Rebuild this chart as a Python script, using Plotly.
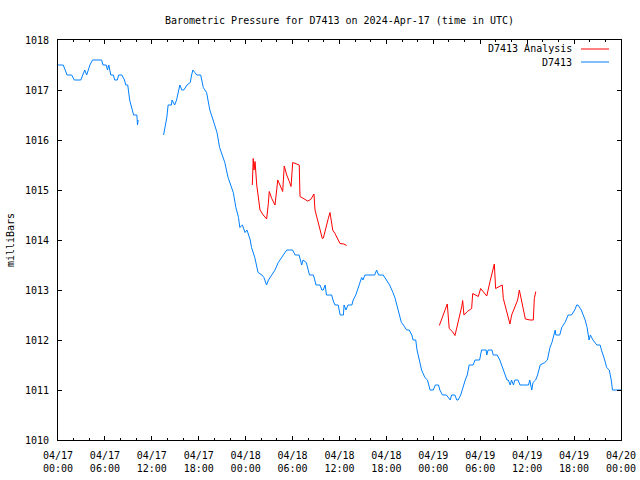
import plotly.graph_objects as go

# ---------------- data ----------------
station = "D7413"
title_text = "Barometric Pressure for D7413 on 2024-Apr-17 (time in UTC)"
y_title = "milliBars"

blue_times = [
    "2024-04-17 00:00", "2024-04-17 00:40", "2024-04-17 00:55", "2024-04-17 01:10", "2024-04-17 01:45",
    "2024-04-17 02:05", "2024-04-17 02:55", "2024-04-17 03:10", "2024-04-17 03:25", "2024-04-17 03:40",
    "2024-04-17 03:50", "2024-04-17 04:05", "2024-04-17 04:25", "2024-04-17 05:35", "2024-04-17 05:45",
    "2024-04-17 06:10", "2024-04-17 06:20", "2024-04-17 06:30", "2024-04-17 06:45", "2024-04-17 07:05",
    "2024-04-17 07:15", "2024-04-17 07:35", "2024-04-17 07:45", "2024-04-17 08:10", "2024-04-17 08:30",
    "2024-04-17 08:40", "2024-04-17 08:55", "2024-04-17 09:10", "2024-04-17 09:30", "2024-04-17 09:40",
    "2024-04-17 10:05", "2024-04-17 10:10", "2024-04-17 10:15",
    "2024-04-17 12:00",
    "2024-04-17 13:30", "2024-04-17 13:55", "2024-04-17 14:05", "2024-04-17 14:30", "2024-04-17 14:35",
    "2024-04-17 14:45", "2024-04-17 14:55", "2024-04-17 15:10", "2024-04-17 15:25", "2024-04-17 15:35",
    "2024-04-17 15:50", "2024-04-17 16:05", "2024-04-17 16:30", "2024-04-17 16:55", "2024-04-17 17:05",
    "2024-04-17 17:15", "2024-04-17 17:30", "2024-04-17 17:45", "2024-04-17 18:15", "2024-04-17 18:35",
    "2024-04-17 19:00", "2024-04-17 19:15", "2024-04-17 19:25", "2024-04-17 19:50", "2024-04-17 20:20",
    "2024-04-17 20:40", "2024-04-17 20:55", "2024-04-17 21:20", "2024-04-17 21:45", "2024-04-17 22:05",
    "2024-04-17 22:25", "2024-04-17 22:45", "2024-04-17 23:05", "2024-04-17 23:15", "2024-04-17 23:35",
    "2024-04-17 23:55", "2024-04-18 00:10", "2024-04-18 00:35", "2024-04-18 00:45", "2024-04-18 01:10",
    "2024-04-18 01:35", "2024-04-18 02:05", "2024-04-18 02:20", "2024-04-18 02:40", "2024-04-18 02:55",
    "2024-04-18 03:20", "2024-04-18 03:45", "2024-04-18 04:10", "2024-04-18 04:50", "2024-04-18 05:15",
    "2024-04-18 06:00", "2024-04-18 06:20", "2024-04-18 06:50", "2024-04-18 07:10", "2024-04-18 07:20",
    "2024-04-18 07:45", "2024-04-18 08:00", "2024-04-18 08:10", "2024-04-18 08:40", "2024-04-18 09:00",
    "2024-04-18 09:30", "2024-04-18 09:45", "2024-04-18 09:55", "2024-04-18 10:10", "2024-04-18 10:20",
    "2024-04-18 11:00", "2024-04-18 11:10", "2024-04-18 11:25", "2024-04-18 11:50", "2024-04-18 12:05",
    "2024-04-18 12:30", "2024-04-18 12:35", "2024-04-18 12:50", "2024-04-18 13:05", "2024-04-18 13:35",
    "2024-04-18 13:45", "2024-04-18 14:05", "2024-04-18 14:25", "2024-04-18 14:35", "2024-04-18 14:50",
    "2024-04-18 15:00", "2024-04-18 15:15", "2024-04-18 16:30", "2024-04-18 16:45", "2024-04-18 17:00",
    "2024-04-18 17:35", "2024-04-18 18:00", "2024-04-18 18:25", "2024-04-18 18:50", "2024-04-18 19:05",
    "2024-04-18 19:20", "2024-04-18 19:40", "2024-04-18 19:55", "2024-04-18 20:10", "2024-04-18 20:35",
    "2024-04-18 20:55", "2024-04-18 21:15", "2024-04-18 21:25", "2024-04-18 21:45", "2024-04-18 21:55",
    "2024-04-18 22:10", "2024-04-18 22:30", "2024-04-18 22:55", "2024-04-18 23:15", "2024-04-18 23:35",
    "2024-04-19 00:00", "2024-04-19 00:15", "2024-04-19 00:40", "2024-04-19 00:50", "2024-04-19 01:10",
    "2024-04-19 01:40", "2024-04-19 01:55", "2024-04-19 02:10", "2024-04-19 02:20", "2024-04-19 02:45",
    "2024-04-19 03:00", "2024-04-19 03:10", "2024-04-19 03:30", "2024-04-19 03:50", "2024-04-19 04:05",
    "2024-04-19 04:20", "2024-04-19 04:35", "2024-04-19 05:05", "2024-04-19 05:20", "2024-04-19 05:55",
    "2024-04-19 06:10", "2024-04-19 06:45", "2024-04-19 06:50", "2024-04-19 07:00", "2024-04-19 07:30",
    "2024-04-19 07:40", "2024-04-19 08:10", "2024-04-19 08:30", "2024-04-19 08:55", "2024-04-19 09:25",
    "2024-04-19 09:35", "2024-04-19 09:50", "2024-04-19 10:00", "2024-04-19 10:15", "2024-04-19 10:25",
    "2024-04-19 10:50", "2024-04-19 11:05", "2024-04-19 12:10", "2024-04-19 12:20", "2024-04-19 12:35",
    "2024-04-19 12:45", "2024-04-19 13:05", "2024-04-19 13:20", "2024-04-19 13:40", "2024-04-19 14:15",
    "2024-04-19 14:35", "2024-04-19 14:55", "2024-04-19 15:10", "2024-04-19 15:35", "2024-04-19 15:40",
    "2024-04-19 16:10", "2024-04-19 16:25", "2024-04-19 16:50", "2024-04-19 17:15", "2024-04-19 17:40",
    "2024-04-19 18:05", "2024-04-19 18:20", "2024-04-19 18:30", "2024-04-19 18:55", "2024-04-19 19:25",
    "2024-04-19 19:40", "2024-04-19 19:55", "2024-04-19 20:05", "2024-04-19 20:25", "2024-04-19 20:55",
    "2024-04-19 21:20", "2024-04-19 21:30", "2024-04-19 21:45", "2024-04-19 21:55", "2024-04-19 22:10",
    "2024-04-19 22:30", "2024-04-19 22:45", "2024-04-19 22:55", "2024-04-20 00:00",
]
blue_values = [
    1017.5, 1017.5, 1017.4, 1017.3, 1017.3,
    1017.2, 1017.2, 1017.3, 1017.4, 1017.3,
    1017.4, 1017.5, 1017.6, 1017.6, 1017.5,
    1017.5, 1017.4, 1017.5, 1017.3, 1017.3,
    1017.2, 1017.2, 1017.3, 1017.3, 1017.2,
    1017.1, 1017.1, 1016.8, 1016.6, 1016.5,
    1016.5, 1016.3, 1016.4,
    None,
    1016.1, 1016.45, 1016.7, 1016.7, 1016.8,
    1016.75, 1016.7, 1016.8, 1017.0, 1017.1,
    1017.0, 1017.0, 1017.1, 1017.15, 1017.3,
    1017.4, 1017.35, 1017.3, 1017.3, 1017.05,
    1016.95, 1016.75, 1016.6, 1016.4, 1016.15,
    1015.85, 1015.75, 1015.55, 1015.25, 1015.1,
    1014.95, 1014.65, 1014.45, 1014.25, 1014.3,
    1014.15, 1014.2, 1014.0, 1013.85, 1013.65,
    1013.35, 1013.3, 1013.25, 1013.1, 1013.2,
    1013.3, 1013.4, 1013.55, 1013.7, 1013.8,
    1013.8, 1013.7, 1013.7, 1013.5, 1013.6,
    1013.55, 1013.4, 1013.3, 1013.3, 1013.1,
    1013.1, 1013.0, 1013.0, 1013.1, 1012.9,
    1012.9, 1012.8, 1012.7, 1012.7, 1012.5,
    1012.5, 1012.7, 1012.6, 1012.7, 1012.7,
    1012.8, 1012.9, 1013.05, 1013.15, 1013.25,
    1013.2, 1013.3, 1013.3, 1013.4, 1013.3,
    1013.3, 1013.2, 1013.1, 1012.95, 1012.85,
    1012.7, 1012.5, 1012.35, 1012.3, 1012.2,
    1012.2, 1012.1, 1012.0, 1012.0, 1011.8,
    1011.6, 1011.4, 1011.25, 1011.2, 1011.0,
    1011.0, 1011.1, 1011.1, 1011.0, 1010.9,
    1010.9, 1010.85, 1010.8, 1010.9, 1010.9,
    1010.8, 1010.8, 1010.9, 1011.1, 1011.2,
    1011.3, 1011.5, 1011.5, 1011.6, 1011.6,
    1011.8, 1011.8, 1011.7, 1011.8, 1011.8,
    1011.7, 1011.7, 1011.6, 1011.4, 1011.2,
    1011.2, 1011.1, 1011.2, 1011.1, 1011.2,
    1011.2, 1011.1, 1011.1, 1011.2, 1011.0,
    1011.15, 1011.2, 1011.3, 1011.5, 1011.55,
    1011.6, 1011.85, 1011.95, 1012.2, 1012.1,
    1012.1, 1012.25, 1012.35, 1012.5, 1012.5,
    1012.6, 1012.7, 1012.7, 1012.6, 1012.4,
    1012.25, 1012.0, 1012.1, 1012.0, 1011.9,
    1011.9, 1011.8, 1011.7, 1011.6, 1011.45,
    1011.4, 1011.2, 1011.0, 1011.0,
]

red_times = [
    "2024-04-18 00:51", "2024-04-18 00:52", "2024-04-18 00:58", "2024-04-18 01:04", "2024-04-18 01:12",
    "2024-04-18 01:25", "2024-04-18 01:37", "2024-04-18 01:50", "2024-04-18 02:15", "2024-04-18 02:41",
    "2024-04-18 02:54", "2024-04-18 03:01", "2024-04-18 03:20", "2024-04-18 03:45", "2024-04-18 03:58",
    "2024-04-18 04:06", "2024-04-18 04:23", "2024-04-18 04:44", "2024-04-18 04:56", "2024-04-18 05:15",
    "2024-04-18 05:35", "2024-04-18 05:48", "2024-04-18 06:01", "2024-04-18 06:26", "2024-04-18 06:51",
    "2024-04-18 06:57", "2024-04-18 07:22", "2024-04-18 07:56", "2024-04-18 08:19", "2024-04-18 08:44",
    "2024-04-18 08:52", "2024-04-18 09:10", "2024-04-18 09:30", "2024-04-18 09:48", "2024-04-18 09:56",
    "2024-04-18 10:16", "2024-04-18 10:34", "2024-04-18 10:47", "2024-04-18 10:55", "2024-04-18 11:08",
    "2024-04-18 11:25", "2024-04-18 11:46", "2024-04-18 12:04", "2024-04-18 12:34", "2024-04-18 12:55",
    "2024-04-18 18:00",
    "2024-04-19 00:46", "2024-04-19 01:04", "2024-04-19 01:29", "2024-04-19 01:47", "2024-04-19 02:02",
    "2024-04-19 02:29", "2024-04-19 02:46", "2024-04-19 03:07", "2024-04-19 03:25", "2024-04-19 03:38",
    "2024-04-19 03:45", "2024-04-19 03:55", "2024-04-19 04:21", "2024-04-19 04:54", "2024-04-19 05:02",
    "2024-04-19 05:45", "2024-04-19 06:03", "2024-04-19 06:23", "2024-04-19 06:50", "2024-04-19 07:15",
    "2024-04-19 07:35", "2024-04-19 07:48", "2024-04-19 07:58", "2024-04-19 08:32", "2024-04-19 08:49",
    "2024-04-19 08:57", "2024-04-19 09:18", "2024-04-19 09:35", "2024-04-19 09:48", "2024-04-19 10:01",
    "2024-04-19 10:27", "2024-04-19 10:47", "2024-04-19 11:00", "2024-04-19 11:05", "2024-04-19 11:26",
    "2024-04-19 11:46", "2024-04-19 12:22", "2024-04-19 12:47", "2024-04-19 12:55", "2024-04-19 13:06",
]
red_values = [
    1015.1, 1015.35, 1015.63, 1015.4, 1015.57,
    1015.1, 1014.8, 1014.6, 1014.5, 1014.42,
    1014.73, 1014.97, 1014.83, 1014.7, 1015.0,
    1015.2, 1015.1, 1014.97, 1015.48, 1015.3,
    1015.17, 1015.07, 1015.55, 1015.52, 1015.5,
    1014.87, 1014.83, 1014.78, 1014.81, 1014.92,
    1014.6, 1014.4, 1014.2, 1014.03, 1014.04,
    1014.27, 1014.43, 1014.55, 1014.43, 1014.2,
    1014.13, 1014.03, 1013.93, 1013.92, 1013.89,
    None,
    1012.29, 1012.43, 1012.6, 1012.72, 1012.23,
    1012.16, 1012.09, 1012.3, 1012.5, 1012.67,
    1012.79, 1012.5, 1012.57, 1012.63, 1012.93,
    1012.87, 1013.03, 1012.97, 1012.88, 1013.17,
    1013.4, 1013.52, 1013.03, 1013.08, 1013.1,
    1012.83, 1012.6, 1012.43, 1012.32, 1012.5,
    1012.67, 1012.8, 1013.0, 1012.93, 1012.67,
    1012.42, 1012.4, 1012.4, 1012.83, 1012.97,
]

tick_vals = [
    "2024-04-17 00:00", "2024-04-17 06:00", "2024-04-17 12:00", "2024-04-17 18:00",
    "2024-04-18 00:00", "2024-04-18 06:00", "2024-04-18 12:00", "2024-04-18 18:00",
    "2024-04-19 00:00", "2024-04-19 06:00", "2024-04-19 12:00", "2024-04-19 18:00",
    "2024-04-20 00:00",
]
tick_text = [
    "04/17<br>00:00", "04/17<br>06:00", "04/17<br>12:00", "04/17<br>18:00",
    "04/18<br>00:00", "04/18<br>06:00", "04/18<br>12:00", "04/18<br>18:00",
    "04/19<br>00:00", "04/19<br>06:00", "04/19<br>12:00", "04/19<br>18:00",
    "04/20<br>00:00",
]
x_range = ["2024-04-17 00:00", "2024-04-20 00:00"]
y_range = [1010, 1018]

series_names = [station + " Analysis", station]
red_color = "#ff0000"
blue_color = "#0080ff"

# ---------------- figure ----------------
FONT = "DejaVu Sans Mono"
fig = go.Figure()
fig.add_trace(go.Scatter(x=red_times, y=red_values, mode="lines", name=series_names[0],
                         line=dict(color=red_color, width=1), connectgaps=False))
fig.add_trace(go.Scatter(x=blue_times, y=blue_values, mode="lines", name=series_names[1],
                         line=dict(color=blue_color, width=1), connectgaps=False))

fig.update_layout(
    width=640, height=480,
    margin=dict(l=58, r=19, t=40, b=40, autoexpand=False),
    paper_bgcolor="white", plot_bgcolor="white",
    showlegend=False,
    font=dict(family=FONT, size=10, color="black"),
    title=dict(text=title_text, x=(58 + 281.5) / 640, xanchor="center",
               y=1 - 20 / 480, yanchor="middle", yref="container", automargin=False,
               font=dict(family=FONT, size=10, color="black")),
)
fig.update_xaxes(
    type="date", range=x_range, tickvals=tick_vals, ticktext=tick_text,
    ticks="inside", ticklen=4, tickcolor="black", tickwidth=1,
    showline=True, linecolor="black", linewidth=1, mirror="ticks",
    showgrid=False, zeroline=False, automargin=False,
    tickfont=dict(family=FONT, size=10, color="black"),
    ticklabelstandoff=6,
    minor=dict(ticks="inside", ticklen=2, tickcolor="black", dtick=2 * 3600 * 1000,
               tick0="2024-04-17 00:00", showgrid=False),
)
fig.update_yaxes(
    range=y_range, dtick=1, tick0=1010,
    ticks="inside", ticklen=4, tickcolor="black", tickwidth=1,
    showline=True, linecolor="black", linewidth=1, mirror="ticks",
    showgrid=False, zeroline=False, automargin=False,
    tickfont=dict(family=FONT, size=10, color="black"),
    ticklabelstandoff=6,
    title=dict(text=y_title, standoff=8, font=dict(family=FONT, size=10, color="black")),
)

# gnuplot-style key (text to the left of the line sample)
legend_rows = [(series_names[0], red_color, 1 - 9 / 400), (series_names[1], blue_color, 1 - 22 / 400)]
for name, col, yy in legend_rows:
    fig.add_annotation(text=name, xref="paper", yref="paper", x=(574 - 58) / 563, y=yy,
                       xanchor="right", yanchor="middle", showarrow=False,
                       font=dict(family=FONT, size=10, color="black"))
    fig.add_shape(type="line", xref="paper", yref="paper",
                  x0=(581 - 58) / 563, x1=(609 - 58) / 563, y0=yy, y1=yy,
                  line=dict(color=col, width=1))

fig.write_html("out.html", config={"displayModeBar": False},
               post_script="document.body.style.margin='0px';document.body.style.overflow='hidden';")
